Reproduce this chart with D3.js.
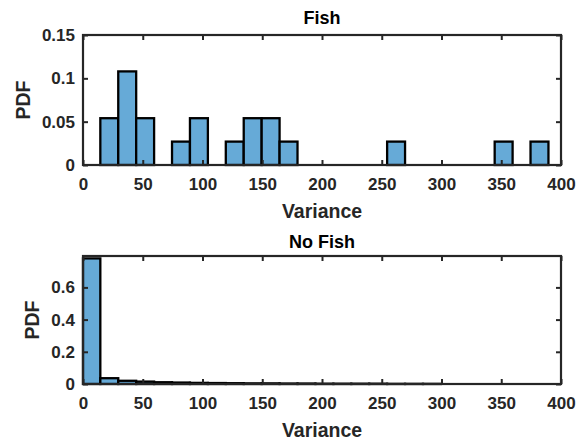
<!DOCTYPE html>
<html>
<head>
<meta charset="utf-8">
<script src="https://cdn.jsdelivr.net/npm/d3@7"></script>
<style>
  body { margin: 0; background: #fff; }
  svg { display: block; font-family: "Liberation Sans", Arial, sans-serif; }
</style>
</head>
<body>
<div id="chart"></div>
<script>
// histogram bins (left edge, right edge) and heights
const xTicks = [0, 50, 100, 150, 200, 250, 300, 350, 400];

const fishLeft  = [14.5, 29.5, 44.5, 74.5, 89.5, 119.5, 134.5, 149.5, 164.5, 254.5, 344.5, 374.5];
const fishRight = [29.5, 44.5, 59.5, 89.5, 104.5, 134.5, 149.5, 164.5, 179.5, 269.5, 359.5, 389.5];
const fishPdf   = [0.054, 0.108, 0.054, 0.027, 0.054, 0.027, 0.054, 0.054, 0.027, 0.027, 0.027, 0.027];
const fishYTicks = [0, 0.05, 0.1, 0.15];

const noFishLeft  = [0, 14.5, 29.5, 44.5, 59.5, 74.5, 89.5, 104.5, 119.5, 134.5, 149.5, 164.5, 179.5, 194.5, 209.5, 224.5, 239.5, 254.5, 269.5, 284.5];
const noFishRight = [14.5, 29.5, 44.5, 59.5, 74.5, 89.5, 104.5, 119.5, 134.5, 149.5, 164.5, 179.5, 194.5, 209.5, 224.5, 239.5, 254.5, 269.5, 284.5, 299.5];
const noFishPdf   = [0.78, 0.036, 0.02, 0.015, 0.011, 0.009, 0.007, 0.006, 0.005, 0.004, 0.004, 0.003, 0.003, 0.002, 0.002, 0.002, 0.002, 0.001, 0.001, 0.001];
const noFishYTicks = [0, 0.2, 0.4, 0.6];

const width = 582;
const height = 443;
const ink = "#262626";
const barFill = "rgb(102,170,215)";

const svg = d3.select("#chart").append("svg")
    .attr("width", width)
    .attr("height", height);

const drawPanel = (cfg) => {
    const {top, bottom, yMax, yTicks, yFmt, left, right, pdf, title, titleY, ylabelX} = cfg;
    const x = d3.scaleLinear().domain([0, 400]).range([83, 561]);
    const y = d3.scaleLinear().domain([0, yMax]).range([bottom, top]);
    const g = svg.append("g");

    const bins = pdf.map((v, i) => ({x0: left[i], x1: right[i], v}));
    g.append("g").selectAll("rect")
	.data(bins)
	.join("rect")
	.attr("x", d => x(d.x0))
	.attr("y", d => y(d.v))
	.attr("width", d => x(d.x1) - x(d.x0))
	.attr("height", d => y(0) - y(d.v))
	.attr("fill", barFill)
	.attr("stroke", "#000")
	.attr("stroke-width", 2.3);

    const style = a => {
	a.select(".domain").remove();
	a.selectAll("line").attr("stroke", ink).attr("stroke-width", 2);
	a.selectAll("text")
	    .attr("fill", ink)
	    .attr("font-size", 17)
	    .attr("font-weight", "bold")
	    .attr("font-family", "'Liberation Sans', Arial, sans-serif");
    };

    g.append("g").attr("transform", `translate(0,${bottom})`)
	.call(d3.axisBottom(x).tickValues(xTicks).tickSizeInner(-5).tickSizeOuter(0).tickPadding(13).tickFormat(d3.format("d")))
	.call(style);
    g.append("g").attr("transform", `translate(0,${top})`)
	.call(d3.axisTop(x).tickValues(xTicks).tickSizeInner(-5).tickSizeOuter(0).tickFormat(""))
	.call(style);
    g.append("g").attr("transform", "translate(83,0)")
	.call(d3.axisLeft(y).tickValues(yTicks).tickSizeInner(-5).tickSizeOuter(0).tickPadding(8).tickFormat(yFmt))
	.call(style);
    g.append("g").attr("transform", "translate(561,0)")
	.call(d3.axisRight(y).tickValues(yTicks).tickSizeInner(-5).tickSizeOuter(0).tickFormat(""))
	.call(style);

    g.append("rect")
	.attr("x", 83).attr("y", top)
	.attr("width", 478).attr("height", bottom - top)
	.attr("fill", "none")
	.attr("stroke", ink)
	.attr("stroke-width", 2.2);

    g.append("text")
	.attr("x", 322).attr("y", titleY)
	.attr("text-anchor", "middle")
	.attr("font-size", 18).attr("font-weight", "bold")
	.attr("fill", "#000")
	.text(title);

    g.append("text")
	.attr("x", 322).attr("y", bottom + 53)
	.attr("text-anchor", "middle")
	.attr("font-size", 19.5).attr("font-weight", "bold")
	.attr("fill", ink)
	.text("Variance");

    g.append("text")
	.attr("transform", `translate(${ylabelX},${(top + bottom) / 2}) rotate(-90)`)
	.attr("text-anchor", "middle")
	.attr("font-size", 19.5).attr("font-weight", "bold")
	.attr("fill", ink)
	.text("PDF");
};

drawPanel({
    top: 35, bottom: 165, yMax: 0.15, yTicks: fishYTicks,
    yFmt: d => d === 0 ? "0" : String(d),
    left: fishLeft, right: fishRight, pdf: fishPdf,
    title: "Fish", titleY: 24, ylabelX: 30
});

drawPanel({
    top: 256, bottom: 384, yMax: 0.795, yTicks: noFishYTicks,
    yFmt: d => d === 0 ? "0" : String(d),
    left: noFishLeft, right: noFishRight, pdf: noFishPdf,
    title: "No Fish", titleY: 248, ylabelX: 39
});
</script>
</body>
</html>
